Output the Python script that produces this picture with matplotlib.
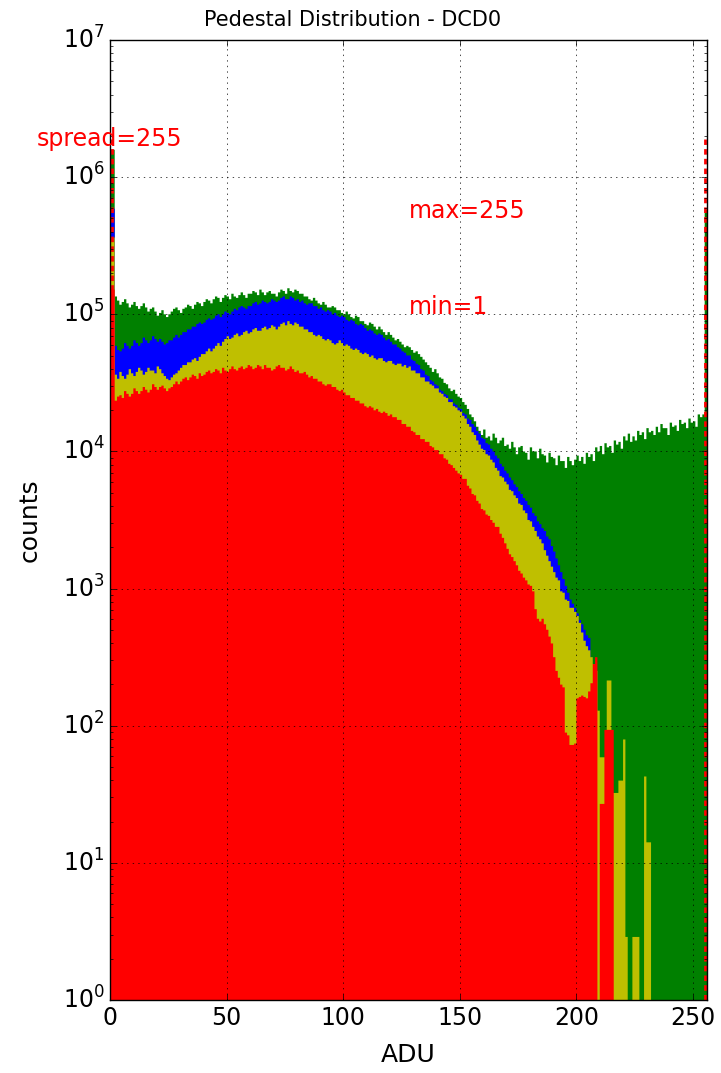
import numpy as np
import matplotlib
matplotlib.use("Agg")
import matplotlib.pyplot as plt

# ---------------------
# Data: log10(counts) per 1-ADU bin (0..255), nan = empty bin
# ---------------------
bin_edges = np.arange(0, 257, 1)
nan = np.nan

green_log = [
    6.20, 6.20, 5.13, 5.10, 5.07, 5.09, 5.11, 5.08, 5.05, 5.07,
    5.09, 5.06, 5.04, 5.06, 5.08, 5.05, 5.02, 5.04, 5.05, 5.02,
    4.99, 5.01, 5.03, 5.00, 4.98, 5.00, 5.02, 5.04, 5.05, 5.03,
    5.01, 5.04, 5.05, 5.07, 5.06, 5.04, 5.07, 5.09, 5.08, 5.06,
    5.09, 5.11, 5.10, 5.08, 5.11, 5.13, 5.12, 5.09, 5.12, 5.14,
    5.13, 5.11, 5.15, 5.13, 5.12, 5.14, 5.16, 5.14, 5.12, 5.15,
    5.15, 5.17, 5.16, 5.14, 5.18, 5.16, 5.14, 5.16, 5.17, 5.15,
    5.15, 5.13, 5.16, 5.18, 5.17, 5.15, 5.19, 5.17, 5.16, 5.18,
    5.17, 5.15, 5.15, 5.13, 5.13, 5.11, 5.10, 5.12, 5.10, 5.08,
    5.07, 5.09, 5.07, 5.05, 5.05, 5.06, 5.05, 5.03, 5.03, 5.01,
    5.00, 5.02, 5.00, 4.98, 4.97, 4.99, 4.98, 4.95, 4.95, 4.93,
    4.92, 4.94, 4.93, 4.91, 4.89, 4.91, 4.89, 4.87, 4.85, 4.87,
    4.85, 4.83, 4.81, 4.82, 4.80, 4.78, 4.76, 4.77, 4.76, 4.74,
    4.72, 4.73, 4.71, 4.69, 4.67, 4.65, 4.63, 4.61, 4.58, 4.60,
    4.57, 4.54, 4.53, 4.50, 4.49, 4.46, 4.44, 4.45, 4.42, 4.40,
    4.39, 4.36, 4.34, 4.31, 4.27, 4.25, 4.22, 4.18, 4.15, 4.12,
    4.16, 4.10, 4.11, 4.08, 4.13, 4.10, 4.06, 4.08, 4.10, 4.04,
    4.05, 4.02, 4.07, 4.03, 3.98, 4.03, 4.04, 4.00, 3.99, 3.94,
    4.03, 4.00, 4.00, 3.95, 4.02, 3.98, 3.97, 3.92, 3.99, 3.96,
    3.95, 3.90, 3.97, 3.93, 3.93, 3.88, 3.96, 3.93, 3.90, 3.94,
    3.97, 3.93, 3.96, 3.91, 3.99, 3.96, 3.98, 3.93, 4.03, 4.00,
    4.04, 3.98, 4.06, 4.03, 4.04, 3.99, 4.08, 4.05, 4.07, 4.02,
    4.11, 4.08, 4.13, 4.07, 4.11, 4.08, 4.15, 4.12, 4.14, 4.09,
    4.17, 4.14, 4.15, 4.12, 4.18, 4.14, 4.20, 4.17, 4.17, 4.12,
    4.21, 4.18, 4.19, 4.15, 4.23, 4.20, 4.21, 4.17, 4.24, 4.21,
    4.22, 4.18, 4.27, 4.25, 4.27, 5.76]

blue_log = [
    5.77, 5.77, 4.77, 4.74, 4.73, 4.75, 4.79, 4.77, 4.75, 4.77,
    4.81, 4.79, 4.77, 4.79, 4.83, 4.81, 4.79, 4.81, 4.84, 4.82,
    4.80, 4.82, 4.80, 4.78, 4.79, 4.81, 4.81, 4.83, 4.85, 4.83,
    4.85, 4.87, 4.87, 4.89, 4.89, 4.91, 4.91, 4.93, 4.94, 4.93,
    4.94, 4.96, 4.97, 4.96, 4.97, 4.99, 5.00, 4.98, 5.00, 5.02,
    5.01, 5.00, 5.02, 5.04, 5.03, 5.05, 5.06, 5.05, 5.04, 5.06,
    5.06, 5.08, 5.09, 5.07, 5.08, 5.10, 5.09, 5.08, 5.09, 5.11,
    5.10, 5.09, 5.10, 5.12, 5.13, 5.11, 5.11, 5.13, 5.12, 5.10,
    5.11, 5.09, 5.10, 5.08, 5.07, 5.08, 5.08, 5.06, 5.06, 5.04,
    5.05, 5.03, 5.02, 5.03, 5.02, 5.00, 5.01, 4.99, 4.98, 4.99,
    4.98, 4.96, 4.95, 4.96, 4.95, 4.93, 4.92, 4.93, 4.92, 4.90,
    4.88, 4.89, 4.88, 4.86, 4.85, 4.86, 4.85, 4.83, 4.81, 4.82,
    4.80, 4.78, 4.78, 4.76, 4.75, 4.73, 4.72, 4.70, 4.70, 4.67,
    4.66, 4.64, 4.63, 4.60, 4.59, 4.56, 4.55, 4.52, 4.51, 4.49,
    4.48, 4.45, 4.44, 4.42, 4.41, 4.38, 4.38, 4.35, 4.34, 4.32,
    4.31, 4.28, 4.27, 4.24, 4.23, 4.20, 4.18, 4.15, 4.13, 4.10,
    4.09, 4.06, 4.05, 4.02, 4.00, 3.97, 3.95, 3.91, 3.89, 3.86,
    3.84, 3.81, 3.79, 3.76, 3.74, 3.71, 3.69, 3.66, 3.64, 3.61,
    3.59, 3.55, 3.53, 3.49, 3.47, 3.44, 3.42, 3.38, 3.36, 3.31,
    3.27, 3.22, 3.17, 3.12, 3.07, 3.02, 2.97, 2.92, 2.89, 2.86,
    2.82, 2.77, 2.74, 2.70, 2.66, 2.64, nan, nan, nan, nan,
    nan, nan, nan, nan, nan, nan, nan, nan, nan, nan,
    nan, nan, nan, nan, nan, nan, nan, nan, nan, nan,
    nan, nan, nan, nan, nan, nan, nan, nan, nan, nan,
    nan, nan, nan, nan, nan, nan, nan, nan, nan, nan,
    nan, nan, nan, nan, nan, nan]

yellow_log = [
    5.56, 5.56, 4.56, 4.53, 4.58, 4.55, 4.53, 4.56, 4.60, 4.57,
    4.55, 4.58, 4.61, 4.59, 4.56, 4.58, 4.61, 4.59, 4.59, 4.57,
    4.62, 4.60, 4.57, 4.55, 4.53, 4.52, 4.54, 4.56, 4.57, 4.59,
    4.61, 4.63, 4.63, 4.65, 4.65, 4.67, 4.68, 4.66, 4.69, 4.71,
    4.71, 4.73, 4.75, 4.73, 4.75, 4.77, 4.79, 4.77, 4.80, 4.82,
    4.84, 4.82, 4.83, 4.85, 4.86, 4.84, 4.85, 4.87, 4.88, 4.86,
    4.87, 4.89, 4.90, 4.88, 4.88, 4.90, 4.91, 4.89, 4.90, 4.92,
    4.91, 4.89, 4.91, 4.93, 4.94, 4.92, 4.95, 4.93, 4.92, 4.94,
    4.93, 4.91, 4.91, 4.89, 4.89, 4.87, 4.87, 4.85, 4.84, 4.85,
    4.84, 4.82, 4.81, 4.82, 4.81, 4.79, 4.78, 4.79, 4.81, 4.79,
    4.77, 4.78, 4.77, 4.75, 4.74, 4.75, 4.74, 4.72, 4.71, 4.72,
    4.71, 4.69, 4.70, 4.68, 4.67, 4.68, 4.68, 4.66, 4.65, 4.66,
    4.66, 4.64, 4.63, 4.64, 4.64, 4.62, 4.63, 4.61, 4.62, 4.59,
    4.59, 4.57, 4.57, 4.54, 4.54, 4.51, 4.51, 4.49, 4.48, 4.46,
    4.46, 4.43, 4.42, 4.40, 4.39, 4.36, 4.36, 4.33, 4.32, 4.30,
    4.29, 4.26, 4.24, 4.20, 4.18, 4.14, 4.12, 4.08, 4.05, 4.02,
    4.01, 3.98, 3.97, 3.94, 3.92, 3.88, 3.86, 3.82, 3.81, 3.78,
    3.76, 3.72, 3.71, 3.68, 3.66, 3.62, 3.61, 3.57, 3.55, 3.50,
    3.49, 3.45, 3.42, 3.38, 3.36, 3.33, 3.28, 3.24, 3.20, 3.16,
    3.12, 3.08, 3.06, 2.98, 2.97, 2.92, 2.91, 2.86, 2.86, 2.83,
    2.80, 2.75, 2.68, 2.62, 2.58, 2.55, 2.50, 2.45, 2.40, 2.11,
    1.77, 1.77, 1.77, 2.33, 2.33, 1.51, 1.51, 1.51, 1.60, 1.60,
    1.90, 0.46, nan, nan, 0.46, 0.46, 0.46, nan, nan, 1.63,
    1.15, 1.15, nan, nan, nan, nan, nan, nan, nan, nan,
    nan, nan, nan, nan, nan, nan, nan, nan, nan, nan,
    nan, nan, nan, nan, nan, nan]

red_log = [
    5.18, 5.18, 4.37, 4.40, 4.41, 4.39, 4.44, 4.42, 4.40, 4.42,
    4.46, 4.44, 4.42, 4.44, 4.47, 4.45, 4.43, 4.45, 4.49, 4.47,
    4.45, 4.47, 4.48, 4.46, 4.44, 4.46, 4.47, 4.49, 4.51, 4.49,
    4.51, 4.53, 4.54, 4.52, 4.54, 4.56, 4.55, 4.53, 4.57, 4.55,
    4.56, 4.58, 4.59, 4.57, 4.58, 4.60, 4.59, 4.57, 4.61, 4.59,
    4.58, 4.60, 4.62, 4.60, 4.59, 4.61, 4.62, 4.60, 4.61, 4.63,
    4.62, 4.60, 4.61, 4.63, 4.62, 4.60, 4.63, 4.61, 4.61, 4.59,
    4.60, 4.62, 4.63, 4.61, 4.61, 4.59, 4.60, 4.62, 4.60, 4.58,
    4.59, 4.57, 4.57, 4.58, 4.56, 4.54, 4.55, 4.53, 4.53, 4.51,
    4.51, 4.49, 4.48, 4.49, 4.49, 4.47, 4.47, 4.45, 4.44, 4.45,
    4.43, 4.41, 4.41, 4.39, 4.39, 4.37, 4.37, 4.35, 4.35, 4.33,
    4.32, 4.33, 4.32, 4.30, 4.31, 4.29, 4.28, 4.29, 4.28, 4.26,
    4.27, 4.25, 4.25, 4.23, 4.23, 4.20, 4.20, 4.18, 4.18, 4.15,
    4.14, 4.12, 4.12, 4.09, 4.09, 4.07, 4.07, 4.04, 4.03, 4.01,
    4.01, 3.98, 3.98, 3.95, 3.94, 3.91, 3.90, 3.88, 3.86, 3.84,
    3.83, 3.80, 3.80, 3.75, 3.73, 3.69, 3.68, 3.64, 3.62, 3.58,
    3.57, 3.54, 3.53, 3.50, 3.48, 3.45, 3.45, 3.40, 3.37, 3.33,
    3.29, 3.25, 3.23, 3.20, 3.17, 3.13, 3.11, 3.08, 3.06, 3.03,
    3.02, 2.98, 2.85, 2.78, 2.76, 2.78, 2.74, 2.70, 2.65, 2.60,
    2.50, 2.40, 2.35, 2.30, 2.28, 1.95, 1.93, 1.86, 1.86, 1.87,
    2.20, 2.21, 2.22, 2.21, 2.20, 2.25, 2.31, 2.45, 2.50, nan,
    1.43, 1.43, 1.97, 1.97, 1.97, 1.97, nan, nan, nan, nan,
    nan, nan, nan, nan, nan, nan, nan, nan, nan, nan,
    nan, nan, nan, nan, nan, nan, nan, nan, nan, nan,
    nan, nan, nan, nan, nan, nan, nan, nan, nan, nan,
    nan, nan, nan, nan, nan, nan]

series = [("g", green_log), ("b", blue_log), ("y", yellow_log), ("r", red_log)]

adu_min = 1
adu_max = 255
spread = 255

# ---------------------
# Plot
# ---------------------
plt.style.use("classic")
fig = plt.figure(figsize=(7.21, 10.73), dpi=100, facecolor="white")
ax = fig.add_axes([0.1526, 0.068, 0.828, 0.8947])

centers = (bin_edges[:-1] + bin_edges[1:]) / 2.0
for color, vals in series:
    counts = np.nan_to_num(10 ** np.array(vals, dtype=float), nan=0.0)
    ax.hist(centers, bins=bin_edges, weights=counts, histtype="stepfilled",
            color=color, lw=0, log=True)

# min / max markers
ax.vlines([adu_min, adu_max], 1, 1.9e6, colors="r",
          linestyles=[(0, (4, 3))], lw=2)

ax.text(-31.5, 1.7e6, "spread=%d" % spread, color="r", fontsize=17)
ax.text(128, 5e5, "max=%d" % adu_max, color="r", fontsize=17)
ax.text(128, 1e5, "min=%d" % adu_min, color="r", fontsize=17)

ax.set_yscale("log")
ax.set_xlim(0, 256)
ax.set_ylim(1, 1e7)
ax.set_xticks([0, 50, 100, 150, 200, 250])
ax.grid(True)
ax.tick_params(labelsize=17)
ax.set_title("Pedestal Distribution - DCD0", fontsize=15, x=0.407, pad=10)
ax.set_xlabel("ADU", fontsize=18)
ax.set_ylabel("counts", fontsize=18)
ax.xaxis.set_label_coords(0.5, -0.045)
ax.yaxis.set_label_coords(-0.114, 0.5)

fig.savefig("out.png", dpi=100, facecolor="white")
